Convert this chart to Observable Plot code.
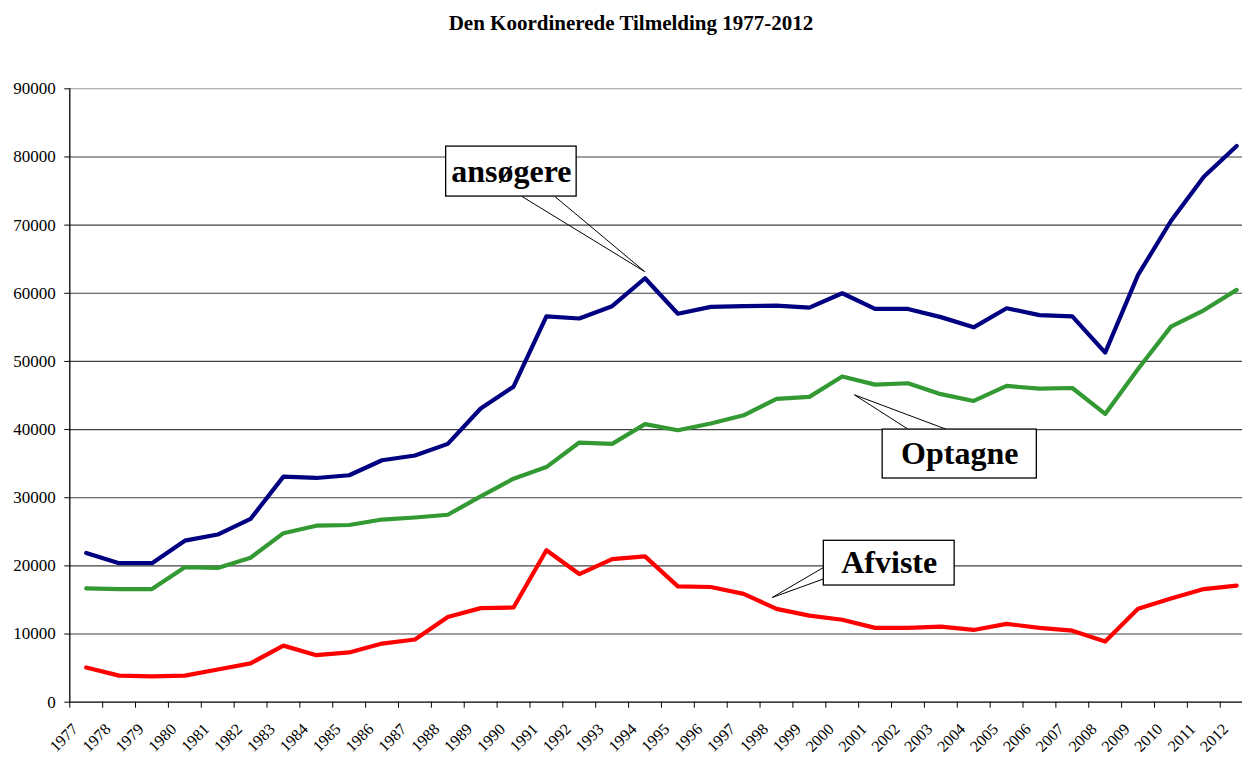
<!DOCTYPE html>
<html>
<head>
<meta charset="utf-8">
<script src="https://cdn.jsdelivr.net/npm/d3@7"></script>
<script src="https://cdn.jsdelivr.net/npm/@observablehq/plot@0.6"></script>
<style>
  html, body { margin: 0; padding: 0; background: #fff; overflow: hidden; }
  #title { height: 40px; box-sizing: border-box; padding-top: 11px; padding-left: 20px; line-height: 24px;
           text-align: center; font: bold 21px "Liberation Serif", "Times New Roman", serif; color: #000; white-space: nowrap; }
  #chart svg { display: block; }
</style>
</head>
<body>
<div id="title">Den Koordinerede Tilmelding 1977-2012</div>
<div id="chart"></div>
<script>
// ---- data ----
const years = [1977,1978,1979,1980,1981,1982,1983,1984,1985,1986,1987,1988,1989,1990,1991,1992,1993,1994,
               1995,1996,1997,1998,1999,2000,2001,2002,2003,2004,2005,2006,2007,2008,2009,2010,2011,2012];
const ansogere = [21900,20400,20400,23700,24600,26900,33100,32900,33300,35500,36200,37900,43100,46300,56600,56300,58100,62200,
                  57000,58000,58100,58200,57900,60000,57700,57700,56500,55000,57800,56800,56600,51300,62700,70600,77100,81600];
const optagne  = [16700,16600,16600,19800,19700,21200,24800,25900,26000,26800,27100,27500,30200,32800,34500,38100,37900,40800,
                  39900,40900,42100,44500,44800,47800,46600,46800,45200,44200,46400,46000,46100,42300,48900,55100,57500,60500];
const afviste  = [5100,3900,3800,3900,4800,5700,8300,6900,7300,8600,9200,12500,13800,13900,22300,18800,21000,21400,
                  17000,16900,15900,13700,12700,12100,10900,10900,11100,10600,11500,10900,10500,8900,13700,15200,16600,17100];
const yTicks = [0,10000,20000,30000,40000,50000,60000,70000,80000,90000];

// callout annotations (data units)
const calloutLabels = ["ansøgere", "Optagne", "Afviste"];
const calloutBoxX1 = [1988.45, 2001.73, 1999.94];
const calloutBoxX2 = [1992.42, 2006.42, 2003.92];
const calloutBoxY1 = [74190, 32820, 17120];
const calloutBoxY2 = [81520, 40000, 23680];
const pointerBaseX = [[1990.76, 1991.76], [2002.52, 2003.69], [1999.94, 1999.94]];
const pointerBaseY = [[74190, 74190], [40000, 40000], [19800, 18100]];
const pointerTipX  = [1994.49, 2000.87, 1998.37];
const pointerTipY  = [63180, 45100, 15360];

// ---- tables ----
const seriesDefs = [
  {name: "ansøgere", values: ansogere, color: "#000080"},
  {name: "Optagne", values: optagne, color: "#339933"},
  {name: "Afviste", values: afviste, color: "#ff0000"}
];
const rows = seriesDefs.flatMap(s => years.map((yr, i) => ({series: s.name, year: yr, value: s.values[i], color: s.color})));
const boxes = calloutLabels.map((l, i) => ({label: l, x1: calloutBoxX1[i], x2: calloutBoxX2[i], y1: calloutBoxY1[i], y2: calloutBoxY2[i]}));
const pointers = calloutLabels.flatMap((l, i) => [0, 1].map(j => ({x1: pointerBaseX[i][j], y1: pointerBaseY[i][j], x2: pointerTipX[i], y2: pointerTipY[i]})));

const W = 1242, H = 718;
const plot = Plot.plot({
  width: W, height: H,
  marginLeft: 69.3, marginRight: 0, marginTop: 48.3, marginBottom: 56.3,
  style: {fontFamily: '"Liberation Serif", "Times New Roman", serif', fontSize: "17px", background: "#fff", color: "#000"},
  x: {type: "linear", domain: [1977, 2013], range: [69.3, 1252.6], axis: null},
  y: {type: "linear", domain: [0, 90000], range: [661.7, 48.3], axis: null},
  marks: [
    Plot.ruleY(yTicks.filter(v => v > 0 && v < 90000), {stroke: "#404040", strokeWidth: 1.1}),
    Plot.ruleY([90000], {stroke: "#999", strokeWidth: 1.1}),
    Plot.axisY({ticks: yTicks, tickSize: 5, tickPadding: 9, tickFormat: d => String(d), fontSize: 17,
                fontFamily: '"Liberation Serif", serif', stroke: "#000"}),
    Plot.axisX({ticks: years, tickSize: 6, tickFormat: () => "", stroke: "#000"}),
    Plot.text(years, {x: d => d, frameAnchor: "bottom", text: d => String(d), rotate: -45, textAnchor: "end",
                      lineAnchor: "bottom", dx: 9, dy: 28, fontSize: 16, fontFamily: '"Liberation Serif", serif', fill: "#000"}),
    Plot.ruleX([1977], {stroke: "#000", strokeWidth: 1.3}),
    Plot.ruleY([0], {stroke: "#000", strokeWidth: 1.3}),
    Plot.line(rows, {x: d => d.year + 0.5, y: "value", z: "series", stroke: "color", strokeWidth: 4.2,
                     strokeLinejoin: "round", strokeLinecap: "round"}),
    Plot.link(pointers, {x1: "x1", y1: "y1", x2: "x2", y2: "y2", stroke: "#000", strokeWidth: 1}),
    Plot.rect(boxes, {x1: "x1", x2: "x2", y1: "y1", y2: "y2", fill: "#fff", stroke: "#000", strokeWidth: 1.3}),
    Plot.text(boxes, {x: d => (d.x1 + d.x2) / 2, y: d => (d.y1 + d.y2) / 2, text: "label", fontSize: 32,
                      fontWeight: "bold", fontFamily: '"Liberation Serif", serif', fill: "#000", lineAnchor: "middle"})
  ]
});
document.getElementById("chart").appendChild(plot);
</script>
</body>
</html>
